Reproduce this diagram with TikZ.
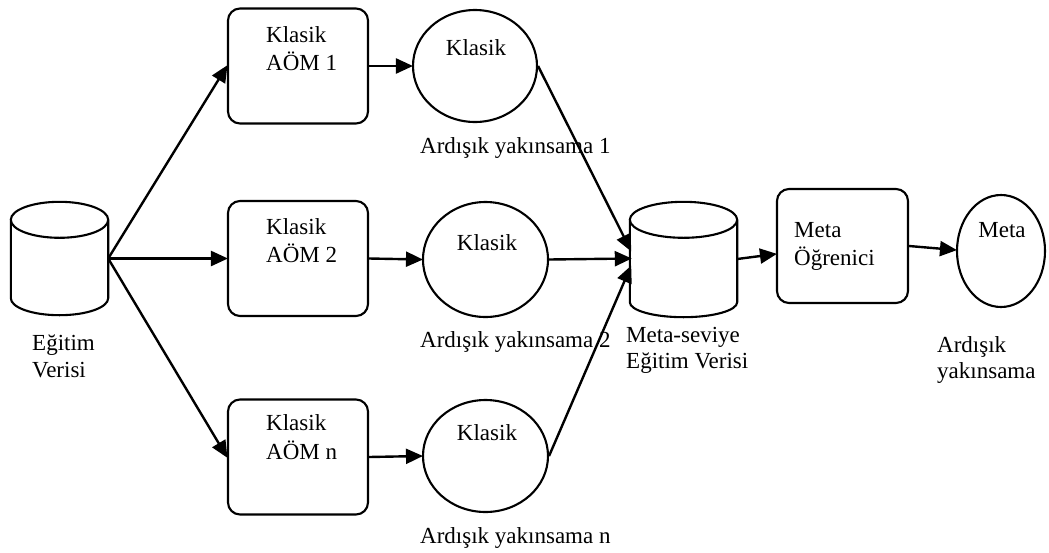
\documentclass[tikz,border=0pt]{standalone}
\usepackage{fontspec}
\setmainfont{Liberation Serif}
\usetikzlibrary{arrows.meta,shapes.geometric,calc}

\tikzset{
  lw/.style={line width=2.1pt},
  rbox/.style={lw, draw, rounded corners=12pt, minimum width=140pt, minimum height=115pt, inner sep=0pt},
  oval/.style={lw, draw, ellipse, inner sep=0pt},
  dbbox/.style={inner sep=0pt},
  txt/.style={inner sep=0pt, anchor=base west, font=\fontsize{23}{27.5}\selectfont},
  ctxt/.style={inner sep=0pt, anchor=base, font=\fontsize{23}{27.5}\selectfont},
  flow/.style={line width=2.4pt, -{Triangle[length=17pt,width=15pt]}, shorten >=-1pt},
}

% open cylinder drawn around a named frame node
\newcommand{\drumshape}[3]{% node, top radius y, bottom radius y
  \path let \p1=(#1.north west), \p2=(#1.south east) in
    coordinate (#1-tc) at (\x1/2+\x2/2,\y1-#2pt)
    coordinate (#1-bc) at (\x1/2+\x2/2,\y2+#3pt);
  \draw let \p1=(#1.west), \p2=(#1.east), \n1={(\x2-\x1)/2} in
    [lw] (#1-tc) ellipse ({\n1} and #2pt)
    ($(#1-tc)-(\n1,0)$) -- ($(#1-bc)-(\n1,0)$)
      arc (180:360:{\n1} and #3pt) -- ($(#1-tc)+(\n1,0)$);
}

\begin{document}
\begin{tikzpicture}[x=1pt,y=1pt]
\useasboundingbox (0,0) rectangle (1049,-552);

% training data store
\node[dbbox, minimum width=97pt, minimum height=113pt] (train) at (59.5,-258.5) {};
\drumshape{train}{18}{17}
\node[txt] (trainlbl) at (32,-350) {Eğitim};
\node[txt] (trainlbl2) at (32,-377) {Verisi};

% base learners
\node[rbox] (b1) at (298,-66) {};
\node[rbox] (b2) at (298,-258.5) {};
\node[rbox] (b3) at (298,-457) {};
\node[txt] (b1t) at (266,-42) {Klasik};
\node[txt] (b1u) at (266,-70) {AÖM 1};
\node[txt] (b2t) at (266,-234) {Klasik};
\node[txt] (b2u) at (266,-262) {AÖM 2};
\node[txt] (b3t) at (266,-430) {Klasik};
\node[txt] (b3u) at (266,-459) {AÖM n};

% base outputs
\node[oval, minimum width=124pt, minimum height=112pt] (e1) at (475,-66) {};
\node[oval, minimum width=125pt, minimum height=115pt] (e2) at (485.5,-259.5) {};
\node[oval, minimum width=125pt, minimum height=112pt] (e3) at (485.5,-456) {};
\node[ctxt] (e1t) at (476,-55) {Klasik};
\node[ctxt] (e2t) at (487,-250) {Klasik};
\node[ctxt] (e3t) at (487,-440) {Klasik};
\node[txt] (e1l) at (420,-153) {Ardışık yakınsama 1};
\node[txt] (e2l) at (420,-347) {Ardışık yakınsama 2};
\node[txt] (e3l) at (420,-543) {Ardışık yakınsama n};

% meta-level data store
\node[dbbox, minimum width=107pt, minimum height=115pt] (meta) at (683.5,-259.5) {};
\drumshape{meta}{18}{15}
\node[txt] (metal) at (626,-342) {Meta-seviye};
\node[txt] (metal2) at (626,-368) {Eğitim Verisi};

% meta learner
\node[rbox, minimum width=131pt, minimum height=114pt] (ml) at (842.5,-246) {};
\node[txt] (mlt) at (794,-237) {Meta};
\node[txt] (mlu) at (794,-265) {Öğrenici};

% meta output
\node[oval, minimum width=88pt, minimum height=112pt] (em) at (1001,-251) {};
\node[ctxt] (emt) at (1002,-237) {Meta};
\node[txt] (eml) at (937,-352) {Ardışık};
\node[txt] (eml2) at (937,-378) {yakınsama};

% connector end points
\coordinate (in1) at ($(meta.west)+(1,9)$);
\coordinate (in2) at ($(meta.west)+(1,1)$);
\coordinate (in3) at ($(meta.west)+(1,-7)$);
\coordinate (mout) at ($(meta.east)+(0,0.5)$);
\coordinate (mlin) at ($(ml.west)+(0,-8)$);
\coordinate (emin) at ($(em.west)+(0,1)$);

% connectors
\draw[flow] (train.east) -- (b1.west);
\draw[flow] (train.east) -- (b2.west);
\draw[flow] (train.east) -- (b3.west);
\draw[flow] (b1.east) -- (e1.west);
\draw[flow] (b2.east) -- (e2.west);
\draw[flow] (b3.east) -- (e3.west);
\draw[flow] (e1.east) -- (in1);
\draw[flow] (e2.east) -- (in2);
\draw[flow] (e3.east) -- (in3);
\draw[flow] (mout) -- (mlin);
\draw[flow] (ml.east) -- (emin);
\end{tikzpicture}
\end{document}
